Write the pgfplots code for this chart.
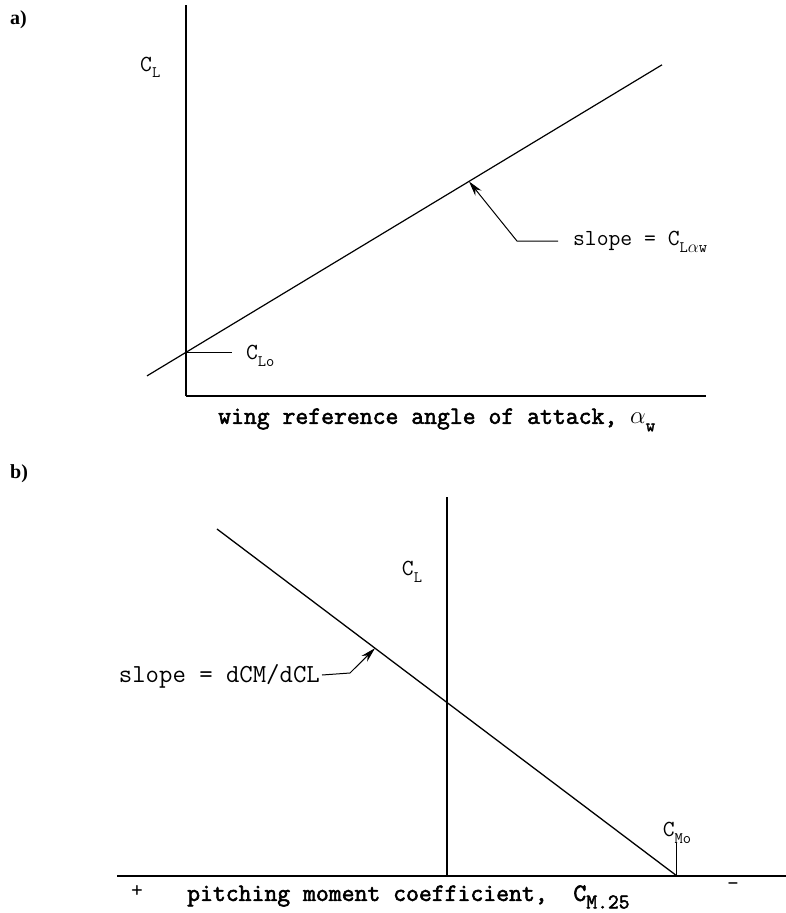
\documentclass[border=0pt]{standalone}
\usepackage{fontspec}
\setmainfont{Liberation Serif}
\newfontfamily\ttheavy{Latin Modern Mono}[FakeBold=2.2]
\usepackage{pgfplots}
\pgfplotsset{compat=1.18}
\usetikzlibrary{arrows.meta}

% lowered, smaller subscript: \sub[size]{text}
\newcommand\sub[2][16]{\raisebox{-0.3em}{\fontsize{#1}{#1}\selectfont #2}}

\tikzset{
  lbl/.style={inner sep=0pt, font={\ttfamily\fontsize{23}{26}\selectfont}},
  ttl/.style={inner sep=0pt, font={\ttheavy\fontsize{25}{28}\selectfont}},
  leader/.style={line width=1pt, -{Stealth[length=15pt,width=8pt]}},
}

\begin{document}
\begin{tikzpicture}
\path[use as bounding box] (0,0) rectangle (786pt,-913pt);

\node[anchor=north west, inner sep=0pt, font={\fontsize{20}{24}\selectfont\bfseries}] at (10pt,-10pt) {a)};
\node[anchor=north west, inner sep=0pt, font={\fontsize{20}{24}\selectfont\bfseries}] at (10pt,-464pt) {b)};

% a) lift curve
\begin{axis}[
  at={(186pt,-396pt)}, anchor=south west,
  x=52pt, y=52pt,
  xmin=0, xmax=10, ymin=0, ymax=7.52,
  axis lines=left,
  axis line style={-, line width=1.5pt},
  ticks=none, clip=false,
]
\addplot[black, line width=1.2pt] coordinates {(-0.75,0.387) (9.154,6.369)};
\draw[line width=1pt] (axis cs:0,0.84) -- (axis cs:0.885,0.84);
\node[lbl, anchor=west] at (axis cs:1.15,0.78) {C\sub{Lo}};
\draw[leader] (axis cs:7.154,2.98) -- (axis cs:6.365,2.98) -- (axis cs:5.442,4.127);
\node[lbl, anchor=west] at (axis cs:7.44,2.96) {slope = C\sub{L$\alpha$w}};
\node[lbl, anchor=west] at (axis cs:-0.885,6.32) {C\sub{L}};
\node[ttl, anchor=west] at (axis cs:0.615,-0.46) {wing reference angle of attack, $\alpha$\sub[18]{w}};
\end{axis}

% b) pitching moment curve
\begin{axis}[
  at={(117pt,-876pt)}, anchor=south west,
  x=50pt, y=50pt, x dir=reverse,
  xmin=-6.78, xmax=6.6, ymin=0, ymax=7.58,
  axis lines=middle,
  x axis line style={-, line width=1.2pt},
  y axis line style={-, line width=1.5pt},
  ticks=none, clip=false,
]
\addplot[black, line width=1.3pt] coordinates {(4.6,6.94) (-4.6,0)};
\draw[line width=1pt] (axis cs:-4.6,0) -- (axis cs:-4.6,0.66);
\node[lbl, anchor=south] at (axis cs:-4.6,0.64) {C\sub{Mo}};
\node[lbl] at (axis cs:0.7,6.08) {C\sub{L}};
\draw[leader] (axis cs:2.5,4.02) -- (axis cs:1.94,4.06) -- (axis cs:1.44,4.556);
\node[lbl, anchor=east, font={\ttfamily\fontsize{26}{29}\selectfont}] at (axis cs:2.54,4.0) {slope = dCM/dCL};
\node[lbl] at (axis cs:6.2,-0.3) {+};
\node[lbl] at (axis cs:-5.72,-0.22) {-};
\node[ttl, anchor=west] at (axis cs:5.2,-0.42) {pitching moment coefficient,~~C\sub[21]{M.25}};
\end{axis}
\end{tikzpicture}
\end{document}
